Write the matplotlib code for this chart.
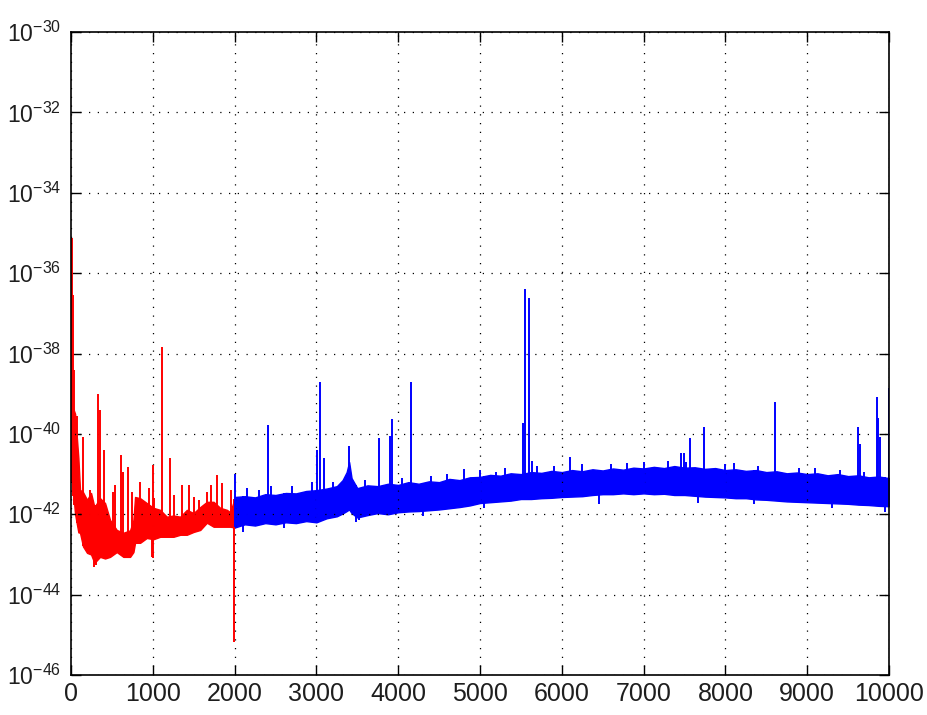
import numpy as np
import matplotlib
matplotlib.use("Agg")
import matplotlib.pyplot as plt
from matplotlib.ticker import FuncFormatter, NullLocator

# ============================
# data (log10 of amplitude)
# ============================
# red part: 0 .. 2000 Hz, band envelope
red_f = [15, 50, 90, 110, 147, 196, 245, 286, 355, 416, 477, 559, 640, 722, 763,
         783, 845, 926, 1008, 1090, 1171, 1253, 1335, 1416, 1498, 1580, 1661,
         1743, 1824, 1906, 1947, 2000]
red_top = [-39.3, -39.5, -40.6, -41.39, -41.45, -41.64, -41.47, -41.82, -41.6,
           -41.72, -42.14, -42.39, -42.46, -42.4, -42.14, -41.57, -41.6, -41.72,
           -41.84, -41.89, -42.06, -42.03, -42.06, -41.89, -41.97, -41.82, -41.69,
           -41.69, -41.84, -41.89, -41.95, -41.6]
red_bot = [-41.2, -42.0, -42.45, -42.46, -42.8, -42.96, -43.0, -43.21, -43.06,
           -43.1, -43.06, -42.94, -43.06, -43.06, -42.94, -42.71, -42.71, -42.59,
           -42.62, -42.56, -42.56, -42.56, -42.51, -42.51, -42.44, -42.39, -42.21,
           -42.31, -42.31, -42.31, -42.31, -42.33]

# red spikes (freq, top)
red_spike_f = [5, 12, 30, 40, 70, 147, 237, 330, 355, 404, 514, 540, 612, 630, 700,
               747, 845, 955, 1000, 1020, 1114, 1212, 1260, 1359, 1444, 1500,
               1559, 1665, 1706, 1790, 1850, 1950]
red_spike_top = [-35.12, -35.12, -36.54, -38.4, -39.55, -40.07, -41.4, -39.0, -39.4,
                 -40.4, -41.44, -41.27, -40.52, -40.95, -40.82, -41.44, -41.19,
                 -41.34, -40.77, -41.6, -37.84, -40.6, -41.52, -41.27, -41.27,
                 -41.57, -41.64, -41.44, -41.27, -41.02, -41.22, -41.4]
# red downward spikes (freq, bottom)
red_dip_f = [286, 300, 990, 1000, 1998]
red_dip_bot = [-43.3, -43.25, -43.06, -43.1, -45.17]

# blue part: 2000 .. 10000 Hz, band envelope
blue_f = [2000, 2125, 2250, 2375, 2500, 2625, 2750, 2875, 3000, 3125, 3250,
          3320, 3370, 3400, 3430, 3500,
          3625, 3750, 3875, 4000, 4125, 4250, 4375, 4500,
          4625, 4750, 4875, 5000, 5125, 5250, 5375, 5500,
          5625, 5750, 5875, 6000, 6125, 6250, 6375, 6500,
          6625, 6750, 6875, 7000, 7125, 7250, 7375, 7500,
          7625, 7750, 7875, 8000, 8125, 8250, 8375, 8500,
          8625, 8750, 8875, 9000, 9125, 9250, 9375, 9500,
          9625, 9750, 9875, 10000]
blue_top = [-41.57, -41.55, -41.58, -41.5, -41.52, -41.47, -41.48, -41.42, -41.4, -41.36, -41.3,
            -41.15, -40.95, -40.7, -41.1, -41.35,
            -41.28, -41.3, -41.24, -41.27, -41.2, -41.24, -41.18, -41.2,
            -41.12, -41.15, -41.08, -41.07, -41.02, -41.04, -40.98, -41.0,
            -40.95, -40.97, -40.92, -40.95, -40.9, -40.93, -40.88, -40.91,
            -40.86, -40.89, -40.84, -40.86, -40.82, -40.85, -40.8, -40.84,
            -40.83, -40.87, -40.85, -40.9, -40.88, -40.92, -40.9, -40.95,
            -40.93, -40.98, -40.96, -41.0, -40.98, -41.03, -41.0, -41.05,
            -41.03, -41.08, -41.06, -41.1]
blue_bot = [-42.33, -42.25, -42.28, -42.22, -42.25, -42.2, -42.22, -42.17, -42.2, -42.1, -42.05,
            -41.98, -41.92, -41.88, -41.97, -42.08,
            -42.02, -41.97, -42.0, -41.95, -41.93, -41.92, -41.9, -41.88,
            -41.85, -41.82, -41.78, -41.72, -41.7, -41.68, -41.66, -41.62,
            -41.62, -41.6, -41.59, -41.57, -41.56, -41.55, -41.52, -41.5,
            -41.5, -41.48, -41.5, -41.48, -41.5, -41.49, -41.52, -41.52,
            -41.54, -41.56, -41.57, -41.58, -41.6, -41.6, -41.63, -41.64,
            -41.66, -41.68, -41.69, -41.7, -41.71, -41.72, -41.73, -41.74,
            -41.76, -41.77, -41.79, -41.8]

# blue spikes (freq, top)
blue_spike_f = [2005, 2150, 2300, 2411, 2440, 2700, 2950, 3011, 3048, 3097, 3200,
                3403, 3600, 3770, 3905, 3929, 4050, 4162, 4400, 4600, 4810, 5000,
                5200, 5300, 5520, 5545, 5594, 5640, 5700, 5900, 6100, 6250, 6600,
                6800, 7000, 7300, 7455, 7490, 7520, 7565, 7735, 8000, 8100, 8400,
                8605, 8900, 9100, 9400, 9620, 9640, 9700, 9853, 9870, 9890, 10000]
blue_spike_top = [-41.0, -41.35, -41.4, -39.78, -41.3, -41.3, -41.2, -40.4, -38.71,
                  -40.6, -41.2, -40.3, -41.15, -40.1, -40.05, -39.63, -41.1, -38.71,
                  -41.05, -41.0, -40.87, -40.9, -40.95, -40.85, -39.73, -36.39,
                  -36.62, -40.67, -40.8, -40.8, -40.57, -40.75, -40.75, -40.72,
                  -40.7, -40.68, -40.47, -40.47, -40.7, -40.1, -39.83, -40.75,
                  -40.72, -40.8, -39.2, -40.85, -40.85, -40.9, -39.83, -40.25,
                  -40.95, -39.08, -39.6, -40.07, -38.86]
# blue downward spikes (freq, bottom)
blue_dip_f = [2100, 2600, 3480, 3520, 4300, 5050, 6450, 7660, 8350, 9300, 9950]
blue_dip_bot = [-42.45, -42.35, -42.2, -42.15, -42.05, -41.85, -41.75, -41.72, -41.75,
                -41.85, -41.95]

# ============================
# style
# ============================
RED = (1.0, 0.0, 0.0)
BLUE = (0.0, 0.0, 1.0)
TXT = "#1e1e1e"

plt.rcParams["font.family"] = ["Liberation Sans", "DejaVu Sans"]
plt.rcParams["mathtext.fontset"] = "custom"
plt.rcParams["mathtext.rm"] = "Liberation Sans"
plt.rcParams["mathtext.it"] = "Liberation Sans"
plt.rcParams["mathtext.default"] = "regular"


def draw_part(ax, f, top, bot, sp_f, sp_top, dip_f, dip_bot, color):
    f = np.asarray(f)
    top = np.asarray(top)
    bot = np.asarray(bot)
    ax.fill_between(f, 10.0 ** bot, 10.0 ** top, color=color, lw=1.0)
    base_up = 10.0 ** np.interp(sp_f, f, bot)
    ax.vlines(sp_f, base_up, 10.0 ** np.asarray(sp_top), color=color, lw=1.4)
    base_dn = 10.0 ** np.interp(dip_f, f, top)
    ax.vlines(dip_f, 10.0 ** np.asarray(dip_bot), base_dn, color=color, lw=1.4)


fig = plt.figure(figsize=(9.27, 7.15), dpi=100)
ax = fig.add_axes([0.0766, 0.0559, 0.8824, 0.8993])

draw_part(ax, red_f, red_top, red_bot, red_spike_f, red_spike_top,
          red_dip_f, red_dip_bot, RED)
draw_part(ax, blue_f, blue_top, blue_bot, blue_spike_f, blue_spike_top,
          blue_dip_f, blue_dip_bot, BLUE)

ax.set_yscale("log")
ax.set_xlim(0, 10000)
ax.set_ylim(1e-46, 1e-30)
ax.set_xticks(np.arange(0, 10001, 1000))
ax.set_yticks([10.0 ** e for e in range(-46, -29, 2)])
ax.yaxis.set_minor_locator(NullLocator())
ax.yaxis.set_major_formatter(
    FuncFormatter(lambda v, p: r"$10^{%d}$" % int(round(np.log10(v)))))

ax.grid(True, color="black", linestyle=(0, (1, 6)), linewidth=0.9)
ax.tick_params(direction="in", top=True, right=True, length=7, width=1,
               colors="black", labelcolor=TXT)
ax.tick_params(axis="x", labelsize=18, pad=5)
ax.tick_params(axis="y", labelsize=16.5, pad=7)
for sp in ax.spines.values():
    sp.set_linewidth(1.2)

fig.savefig("out.png", dpi=100)
